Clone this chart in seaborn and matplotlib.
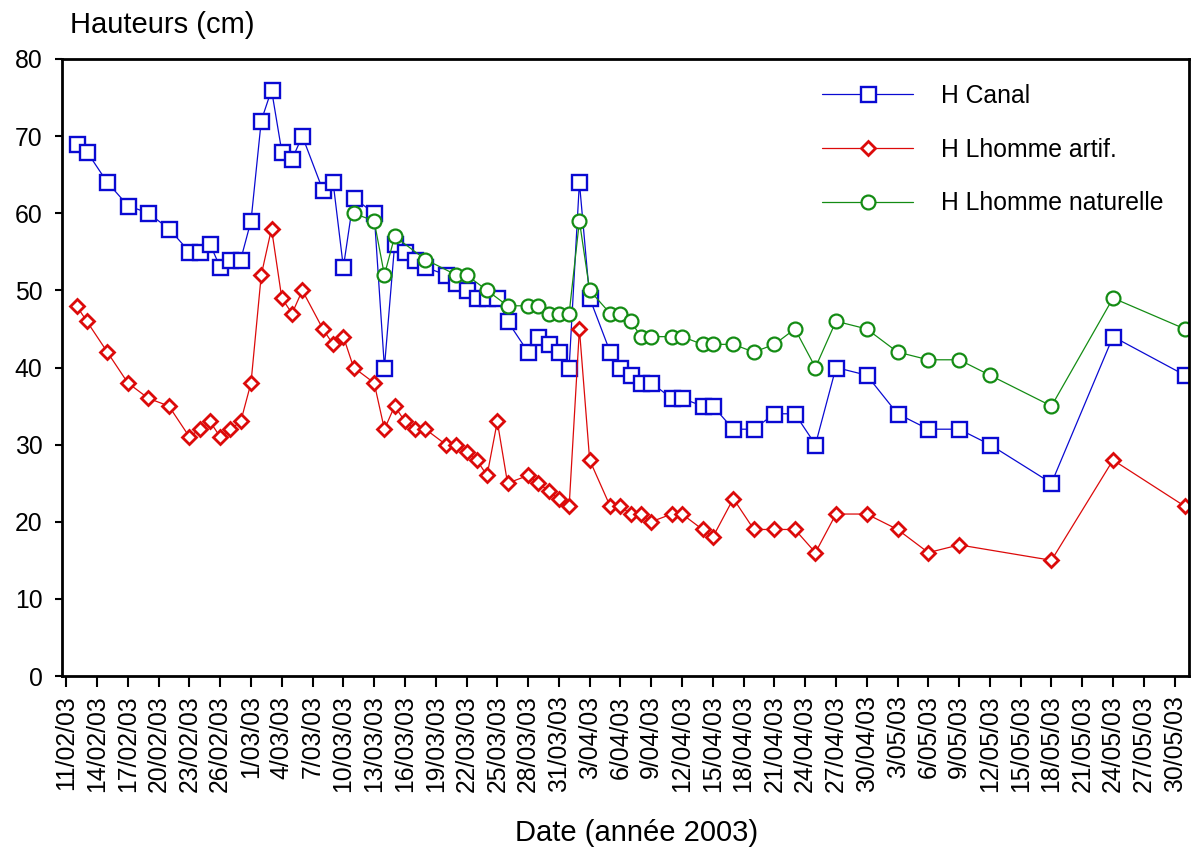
import pandas as pd
import seaborn as sns
import matplotlib.pyplot as plt

# dates des mesures (annee 2003)
dates = ["12/02", "13/02", "15/02", "17/02", "19/02", "21/02", "23/02", "24/02", "25/02", "26/02",
         "27/02", "28/02", "01/03", "02/03", "03/03", "04/03", "05/03", "06/03", "08/03", "09/03",
         "10/03", "11/03", "13/03", "14/03", "15/03", "16/03", "17/03", "18/03", "20/03", "21/03",
         "22/03", "23/03", "24/03", "25/03", "26/03", "28/03", "29/03", "30/03", "31/03", "01/04",
         "02/04", "03/04", "05/04", "06/04", "07/04", "08/04", "09/04", "11/04", "12/04", "14/04",
         "15/04", "17/04", "19/04", "21/04", "23/04", "25/04", "27/04", "30/04", "03/05", "06/05",
         "09/05", "12/05", "18/05", "24/05", "31/05"]

h_canal = [69, 68, 64, 61, 60, 58, 55, 55, 56, 53,
           54, 54, 59, 72, 76, 68, 67, 70, 63, 64,
           53, 62, 60, 40, 56, 55, 54, 53, 52, 51,
           50, 49, 49, 49, 46, 42, 44, 43, 42, 40,
           64, 49, 42, 40, 39, 38, 38, 36, 36, 35,
           35, 32, 32, 34, 34, 30, 40, 39, 34, 32,
           32, 30, 25, 44, 39]

h_artif = [48, 46, 42, 38, 36, 35, 31, 32, 33, 31,
           32, 33, 38, 52, 58, 49, 47, 50, 45, 43,
           44, 40, 38, 32, 35, 33, 32, 32, 30, 30,
           29, 28, 26, 33, 25, 26, 25, 24, 23, 22,
           45, 28, 22, 22, 21, 21, 20, 21, 21, 19,
           18, 23, 19, 19, 19, 16, 21, 21, 19, 16,
           17, None, 15, 28, 22]

h_naturelle = [None] * 21 + [
    60, 59, 52, 57, None, None, 54, None, 52,
    52, None, 50, None, 48, 48, 48, 47, 47, 47,
    59, 50, 47, 47, 46, 44, 44, 44, 44, 43,
    43, 43, 42, 43, 45, 40, 46, 45, 42, 41,
    41, 39, 35, 49, 45]

series = [
    ("H Canal", "#0a0ad2", "s", 10.8, 1.7),
    ("H Lhomme artif.", "#dc0a0a", "D", 7.6, 2.0),
    ("H Lhomme naturelle", "#148c14", "o", 10.0, 1.6),
]

df = pd.DataFrame({
    "date": pd.to_datetime([d + "/2003" for d in dates], format="%d/%m/%Y"),
    "H Canal": h_canal,
    "H Lhomme artif.": h_artif,
    "H Lhomme naturelle": h_naturelle,
})

sns.set_style("ticks")
plt.rcParams["font.family"] = ["Liberation Sans", "DejaVu Sans"]
plt.rcParams["text.color"] = "black"
plt.rcParams["xtick.color"] = "black"
plt.rcParams["ytick.color"] = "black"
plt.rcParams["axes.edgecolor"] = "black"

fig = plt.figure(figsize=(11.92, 8.5), dpi=100)
ax = fig.add_axes([62 / 1192, 1 - 676 / 850, (1189 - 62) / 1192, (676 - 59) / 850])

for name, color, marker, ms, mew in series:
    sub = df[["date", name]].dropna()
    sns.lineplot(data=sub, x="date", y=name, ax=ax, color=color, lw=0.9,
                 marker=marker, markersize=ms, markerfacecolor="white",
                 markeredgecolor=color, markeredgewidth=mew, label=name)

start = pd.Timestamp("2003-02-11")
ax.set_xlim(start - pd.Timedelta(hours=10), start + pd.Timedelta(days=109.4))
ax.set_ylim(0, 80)
ax.set_yticks(range(0, 81, 10))

ticks = pd.date_range("2003-02-11", "2003-05-30", freq="3D")
ax.set_xticks(ticks)
ax.set_xticklabels([f"{t.day}/{t.month:02d}/03" for t in ticks], rotation=90, fontsize=17.8)
ax.tick_params(axis="y", labelsize=17.8, length=5, width=1.5, pad=9)
ax.tick_params(axis="x", length=8, width=1.5, pad=6)

ax.set_xlabel("")
ax.set_ylabel("")
for sp in ax.spines.values():
    sp.set_linewidth(2)
    sp.set_visible(True)

fig.text(70 / 1192, 1 - 25 / 850, "Hauteurs (cm)", fontsize=21, va="center", ha="left")
fig.text(637 / 1192, 1 - 833 / 850, "Date (année 2003)", fontsize=21, va="center", ha="center")

ax.legend(loc="upper left", bbox_to_anchor=(822 / 1192, 1 - 84 / 850),
          bbox_transform=fig.transFigure, frameon=False, fontsize=17.8,
          handlelength=3.7, handletextpad=1.1, labelspacing=1.2,
          borderpad=0, borderaxespad=0, numpoints=1)

fig.savefig("out.png", dpi=100)
